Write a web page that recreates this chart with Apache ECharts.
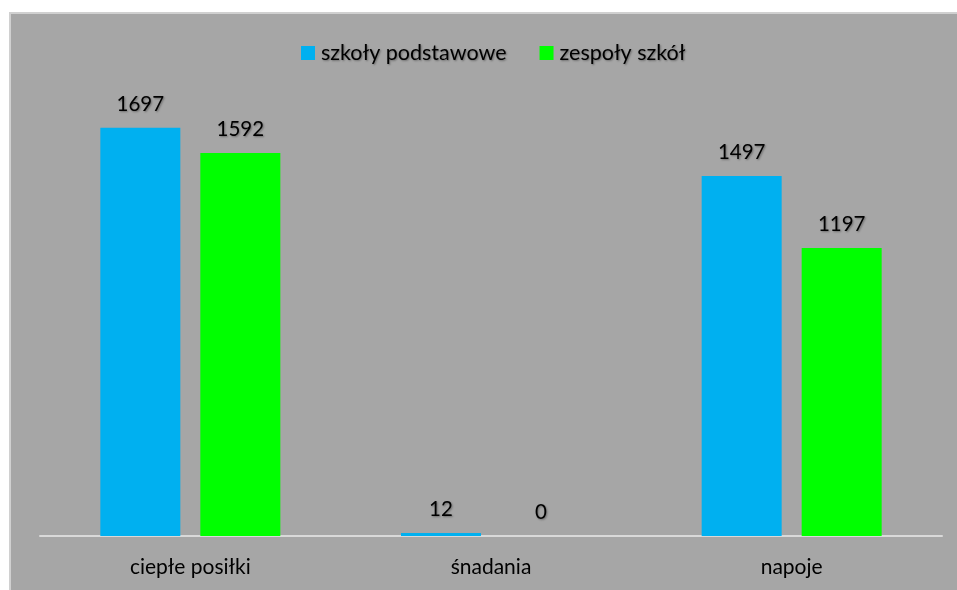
<!DOCTYPE html>
<html>
<head>
<meta charset="utf-8">
<script src="https://cdn.jsdelivr.net/npm/echarts@6/dist/echarts.min.js"></script>
<style>
  html, body { margin: 0; padding: 0; background: #ffffff; }
  #frame { position: absolute; left: 9px; top: 12px; width: 948px; height: 578px;
           background: #a6a6a6; border-top: 2px solid #d0d0d0; border-left: 2px solid #d0d0d0; box-sizing: border-box; }
  #main { position: absolute; left: 0; top: 0; width: 957px; height: 590px; }
</style>
</head>
<body>
<div id="frame"></div>
<div id="main"></div>
<script>
var categories = ["ciepłe posiłki", "śnadania", "napoje"];
var seriesNames = ["szkoły podstawowe", "zespoły szkół"];
var podstawowe = [1697, 12, 1497];
var zespoly = [1592, 0, 1197];
var colors = ["#00b0f0", "#00ff00"];

var fontName = "Lato, 'Open Sans', sans-serif";
var shadow = { textShadowColor: "rgba(0,0,0,0.35)", textShadowBlur: 2, textShadowOffsetX: 1, textShadowOffsetY: 1 };

function labelStyle() {
  return Object.assign({
    show: true, position: "top", distance: 13,
    color: "#000", fontSize: 20.5, fontFamily: fontName
  }, shadow);
}

var myChart = echarts.init(document.getElementById("main"));
var option = {
  backgroundColor: "transparent",
  animation: false,
  color: colors,
  legend: {
    top: 37,
    left: 296,
    itemWidth: 14,
    itemHeight: 14,
    itemGap: 33,
    icon: "rect",
    data: seriesNames,
    textStyle: Object.assign({ color: "#000", fontSize: 21.5, fontFamily: fontName, padding: [0, 0, 0, 1] }, shadow)
  },
  grid: { left: 40, right: 15, top: 103, bottom: 54 },
  xAxis: {
    type: "category",
    data: categories,
    axisTick: { show: false },
    axisLine: { lineStyle: { color: "#d9d9d9", width: 2 } },
    axisLabel: { color: "#000", fontSize: 21, fontFamily: fontName, margin: 21 }
  },
  yAxis: {
    type: "value", min: 0, max: 1800, show: false,
    splitLine: { show: false }
  },
  series: [
    { name: seriesNames[0], type: "bar", data: podstawowe, barWidth: 80, barGap: "25%", label: labelStyle() },
    { name: seriesNames[1], type: "bar", data: zespoly, barWidth: 80, label: labelStyle() }
  ]
};
myChart.setOption(option);
</script>
</body>
</html>
